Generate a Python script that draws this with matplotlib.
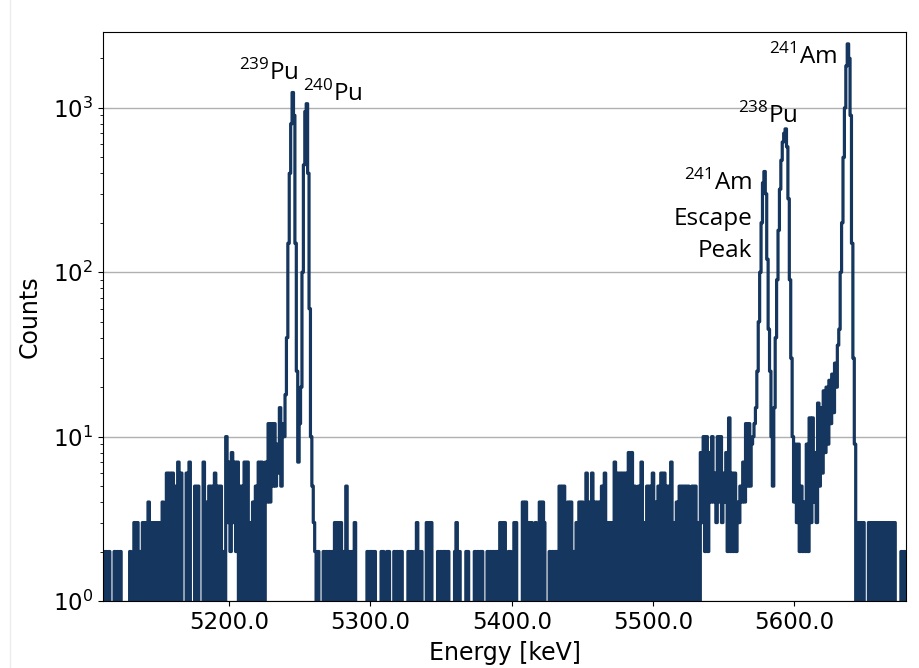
import numpy as np
import matplotlib
matplotlib.use("Agg")
import matplotlib.pyplot as plt
from matplotlib.lines import Line2D
from matplotlib.ticker import FixedLocator, FuncFormatter

# spectrum, 1 keV channels starting at 5111 keV
first_channel = 5111
channel_width = 1.0

# 5111 - 5240 keV : low energy background
bg_left = [
    2, 0, 2, 0, 2, 0, 0, 0, 2, 0,
    2, 0, 2, 0, 0, 0, 0, 0, 0, 2,
    0, 1, 3, 0, 3, 0, 2, 0, 3, 0,
    3, 0, 4, 0, 3, 0, 3, 0, 3, 0,
    3, 0, 4, 0, 3, 6, 0, 6, 0, 6,
    0, 5, 0, 7, 0, 6, 0, 0, 0, 6,
    0, 7, 0, 0, 0, 5, 0, 5, 0, 0,
    0, 7, 0, 4, 0, 5, 0, 5, 0, 6,
    0, 5, 0, 5, 0, 2, 0, 10, 3, 7,
    2, 8, 3, 7, 2, 7, 0, 5, 0, 5,
    7, 0, 7, 0, 3, 0, 4, 0, 5, 0,
    7, 0, 7, 0, 0, 7, 4, 12, 4, 12,
    5, 12, 5, 9, 6, 15, 5, 12, 10, 18,
]
# 5241 - 5260 keV : 239Pu / 240Pu
pu_peaks = [
    40, 150, 400, 800, 1240, 900, 150, 25, 7, 12,
    20, 100, 450, 950, 1060, 400, 60, 10, 5, 3,
]
# 5261 - 5570 keV : middle background
bg_mid = [
    2, 0, 2, 0, 0, 0, 2, 0, 2, 0,
    2, 0, 2, 0, 3, 0, 3, 0, 3, 0,
    2, 0, 5, 0, 2, 0, 2, 0, 3, 0,
    0, 0, 0, 0, 0, 0, 0, 2, 0, 2,
    2, 0, 2, 0, 0, 0, 0, 2, 2, 0,
    0, 2, 2, 0, 0, 0, 2, 0, 2, 0,
    2, 2, 0, 0, 0, 0, 2, 0, 2, 0,
    2, 0, 3, 2, 0, 2, 0, 0, 0, 3,
    0, 3, 3, 0, 0, 0, 0, 2, 0, 2,
    0, 2, 2, 0, 2, 0, 0, 0, 0, 2,
    3, 0, 2, 0, 0, 0, 0, 2, 2, 0,
    0, 0, 0, 2, 0, 2, 0, 2, 2, 0,
    0, 0, 2, 0, 2, 0, 2, 0, 2, 2,
    0, 3, 0, 3, 3, 0, 0, 2, 2, 0,
    0, 3, 3, 0, 0, 0, 0, 4, 0, 4,
    0, 3, 0, 3, 2, 0, 3, 0, 2, 4,
    0, 4, 3, 0, 0, 0, 2, 0, 2, 0,
    2, 2, 0, 5, 0, 5, 5, 0, 2, 4,
    0, 4, 0, 2, 0, 3, 0, 4, 0, 4,
    3, 0, 6, 0, 4, 0, 6, 0, 4, 0,
    4, 0, 4, 5, 0, 6, 0, 3, 0, 3,
    0, 3, 7, 0, 6, 0, 6, 0, 6, 0,
    6, 0, 8, 0, 8, 0, 5, 0, 4, 5,
    0, 7, 0, 3, 0, 5, 0, 5, 0, 6,
    0, 4, 0, 5, 0, 6, 0, 6, 0, 5,
    0, 5, 7, 0, 3, 0, 4, 0, 5, 0,
    5, 0, 5, 0, 5, 0, 3, 5, 0, 5,
    0, 3, 0, 8, 3, 10, 2, 10, 2, 8,
    4, 10, 4, 6, 3, 10, 4, 10, 3, 6,
    4, 8, 2, 13, 2, 6, 2, 6, 2, 4,
    3, 5, 4, 7, 4, 12, 5, 12, 5, 9,
]
# 5571 - 5600 keV : 241Am escape peak / 238Pu
escape_pu238 = [
    10, 12, 15, 25, 50, 100, 200, 350, 410, 300,
    120, 45, 25, 10, 5, 15, 40, 90, 180, 320,
    480, 620, 700, 745, 580, 280, 90, 30, 10, 4,
]
# 5601 - 5679 keV : 241Am and high energy tail
am_region = [
    9, 3, 9, 2, 5, 2, 4, 2, 9, 2,
    13, 3, 13, 4, 8, 3, 16, 5, 15, 6,
    19, 8, 20, 9, 22, 12, 24, 14, 28, 20,
    36, 45, 100, 200, 500, 1000, 1800, 2450, 2000, 900,
    150, 30, 9, 0, 3, 0, 3, 0, 3, 0,
    0, 0, 3, 0, 3, 0, 3, 0, 3, 0,
    3, 0, 3, 0, 3, 0, 3, 0, 3, 0,
    3, 0, 0, 0, 0, 2, 0, 2, 0,
]

xticks = [5200, 5300, 5400, 5500, 5600]

# (text, energy, counts, alignment)
labels = [
    (r"$^{239}$Pu", 5249, 1480, "right"),
    (r"$^{240}$Pu", 5252.5, 1100, "left"),
    (r"$^{241}$Am", 5630, 1850, "right"),
    (r"$^{238}$Pu", 5602, 815, "right"),
    (r"$^{241}$Am", 5570, 316, "right"),
    ("Escape", 5570, 194, "right"),
    ("Peak", 5570, 123, "right"),
]

counts = np.array(bg_left + pu_peaks + bg_mid + escape_pu238 + am_region, dtype=float)
energy = first_channel + channel_width * np.arange(len(counts))

plt.rcParams["mathtext.fontset"] = "dejavusans"
plt.rcParams["mathtext.rm"] = "Open Sans"

fig = plt.figure(figsize=(9.19, 6.68), dpi=100)
ax = fig.add_axes([0.112, 0.1003, 0.874, 0.852])

ax.step(energy, counts, where="mid", color="#15365e", lw=2.3)
ax.set_yscale("log")
ax.set_ylim(1, 2900)
ax.set_xlim(5110.6, 5679.2)

ax.xaxis.set_major_locator(FixedLocator(xticks))
ax.xaxis.set_major_formatter(FuncFormatter(lambda v, p: f"{v:.1f}"))
ax.tick_params(axis="both", which="major", labelsize=16.5)
ax.yaxis.grid(True, which="major", color="#b0b0b0", lw=1)
ax.set_axisbelow(True)

ax.set_xlabel("Energy [keV]", fontsize=17, labelpad=5.5)
ax.set_ylabel("Counts", fontsize=17, labelpad=8)

for txt, xe, yc, ha in labels:
    t = ax.text(xe, yc, txt, ha=ha, va="baseline", fontsize=17.5,
                family="Open Sans")
    t.set_math_fontfamily("custom")

# faint border at the left edge of the original slide
fig.add_artist(Line2D([10 / 919, 10 / 919], [0, 1], color="#ececec", lw=1))

fig.savefig("out.png", dpi=100)
